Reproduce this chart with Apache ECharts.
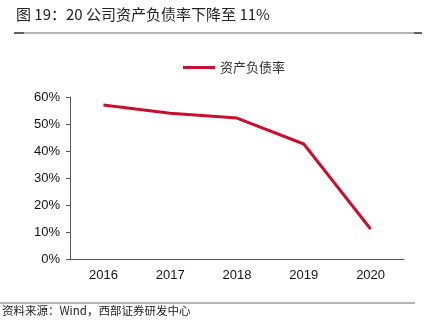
<!DOCTYPE html>
<html><head><meta charset="utf-8">
<script src="https://cdn.jsdelivr.net/npm/echarts@6/dist/echarts.min.js"></script>
<style>html,body{margin:0;padding:0;background:#fff}#c{width:436px;height:331px}</style>
</head><body><div id="c"></div>
<script>
var categories = ['2016','2017','2018','2019','2020'];
var debtRatio = [57.0, 54.0, 52.2, 42.6, 11.1];
var yTicks = [0,10,20,30,40,50,60];
var titleText = '图 19：20 公司资产负债率下降至 11%';
var sourceText = '资料来源：Wind，西部证券研发中心';
var seriesName = '资产负债率';

var chart = echarts.init(document.getElementById('c'));
chart.setOption({
  animation:false,
  backgroundColor:'#fff',
  grid:{left:70,right:32,top:97,bottom:72},
  legend:{data:[seriesName],top:56,left:178,itemWidth:32,itemHeight:3,icon:'rect',itemGap:4,
    textStyle:{fontFamily:'Noto Sans CJK SC',fontSize:13,color:'#333'}},
  xAxis:{type:'category',data:categories,boundaryGap:true,
    axisLine:{lineStyle:{color:'#555'}},axisTick:{length:4,lineStyle:{color:'#555'}},
    axisLabel:{color:'#111',fontSize:13,fontFamily:'Liberation Sans',margin:10}},
  yAxis:{type:'value',min:yTicks[0],max:yTicks[yTicks.length-1],interval:10,
    axisLine:{show:true,lineStyle:{color:'#555'}},axisTick:{show:true,length:4,lineStyle:{color:'#555'}},
    splitLine:{show:false},
    axisLabel:{color:'#111',fontSize:13,fontFamily:'Liberation Sans',margin:10,formatter:'{value}%'}},
  series:[{name:seriesName,type:'line',data:debtRatio,symbol:'none',
    lineStyle:{color:'#c8102e',width:3},itemStyle:{color:'#c8102e'}}],
  graphic:[
    {type:'text',left:16,top:7,style:{text:titleText,fontSize:15,fontFamily:'Noto Sans CJK SC',fill:'#222'}},
    {type:'line',shape:{x1:14,y1:33,x2:422,y2:33},style:{stroke:'#999',lineWidth:1.5}},
    {type:'line',shape:{x1:14,y1:33,x2:24,y2:33},style:{stroke:'#444',lineWidth:1.5}},
    {type:'line',shape:{x1:414,y1:33,x2:422,y2:33},style:{stroke:'#444',lineWidth:1.5}},
    {type:'line',shape:{x1:0,y1:303,x2:415,y2:303},style:{stroke:'#666',lineWidth:1}},
    {type:'text',left:2,top:305,style:{text:sourceText,fontSize:11.5,fontFamily:'Noto Sans CJK SC',fill:'#222'}}
  ]
});
</script></body></html>
